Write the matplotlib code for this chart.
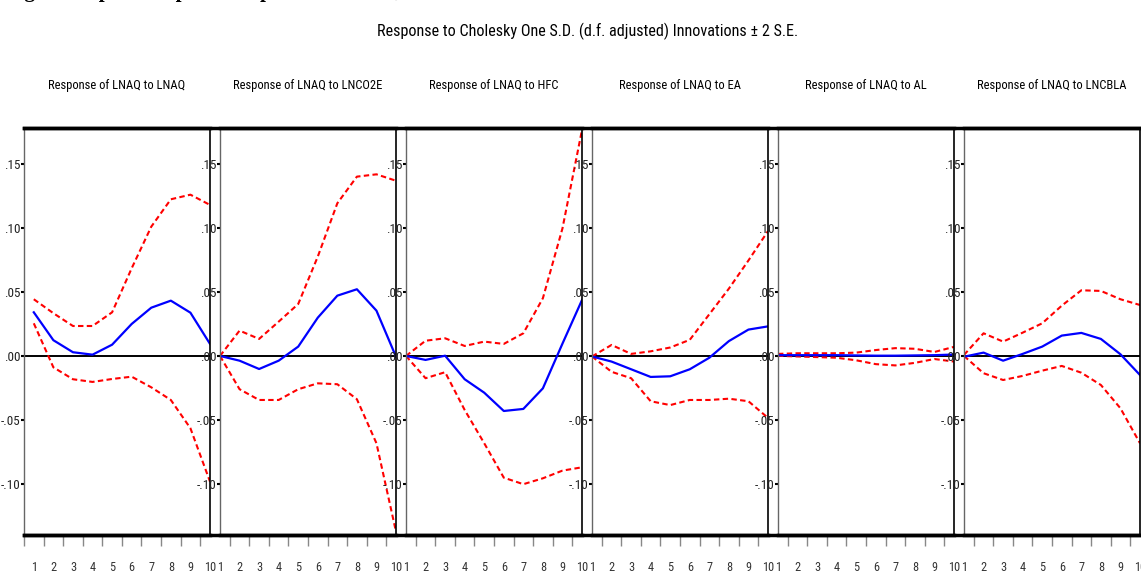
import matplotlib
matplotlib.use("Agg")
import matplotlib.pyplot as plt
from matplotlib import font_manager
from matplotlib.font_manager import FontProperties
from matplotlib.lines import Line2D


def narrow_font():
    # look for a condensed / narrow sans face, EViews graphs use a squeezed Arial
    prefs = ["liberationsansnarrow-regular", "robotocondensed-regular", "dejavusanscondensed.",
             "opensans_condensed-regular", "notosans-condensed.", "notosanscondensed-regular"]
    files = [f.fname for f in font_manager.fontManager.ttflist]
    for p in prefs:
        for fn in files:
            if p in fn.lower().replace(" ", ""):
                return FontProperties(fname=fn)
    for f in font_manager.fontManager.ttflist:
        low = f.fname.lower()
        if ("condensed" in low or "narrow" in low) and "bold" not in low and "oblique" not in low \
                and "italic" not in low and "mono" not in low and "serif" not in low.replace("sans", ""):
            return FontProperties(fname=f.fname)
    return FontProperties(family="DejaVu Sans")


FP = narrow_font()

periods = list(range(1, 11))
shocks = ["LNAQ", "LNCO2E", "HFC", "EA", "AL", "LNCBLA"]

# response of LNAQ to each shock, with +/- 2 S.E. bands
irf_lnaq = [0.0345, 0.0127, 0.0033, 0.0014, 0.0092, 0.0254, 0.0381, 0.0436, 0.0342, 0.0098]
up_lnaq = [0.0447, 0.0338, 0.0238, 0.0238, 0.0345, 0.0689, 0.1014, 0.1228, 0.1264, 0.1184]
lo_lnaq = [0.0259, -0.0085, -0.0178, -0.0199, -0.0176, -0.0158, -0.0241, -0.0340, -0.0561, -0.0978]

irf_lnco2e = [0.0004, -0.0033, -0.0098, -0.0033, 0.0077, 0.0303, 0.0475, 0.0525, 0.0358, -0.0002]
up_lnco2e = [0.0004, 0.0202, 0.0137, 0.0272, 0.0410, 0.0780, 0.1197, 0.1405, 0.1423, 0.1373]
lo_lnco2e = [0.0004, -0.0256, -0.0340, -0.0340, -0.0256, -0.0210, -0.0217, -0.0334, -0.0678, -0.1369]

irf_hfc = [0.0004, -0.0027, 0.0006, -0.0178, -0.0283, -0.0426, -0.0410, -0.0249, 0.0100, 0.0441]
up_hfc = [0.0004, 0.0123, 0.0142, 0.0082, 0.0116, 0.0098, 0.0181, 0.0455, 0.1000, 0.1770]
lo_hfc = [0.0004, -0.0170, -0.0123, -0.0418, -0.0678, -0.0947, -0.0998, -0.0952, -0.0892, -0.0866]

irf_ea = [0.0000, -0.0040, -0.0100, -0.0160, -0.0155, -0.0100, -0.0010, 0.0120, 0.0210, 0.0235]
up_ea = [0.0000, 0.0090, 0.0020, 0.0040, 0.0070, 0.0130, 0.0330, 0.0530, 0.0750, 0.0980]
lo_ea = [0.0000, -0.0120, -0.0170, -0.0350, -0.0380, -0.0340, -0.0340, -0.0330, -0.0350, -0.0480]

irf_al = [0.0010, 0.0010, 0.0010, 0.0010, 0.0008, 0.0006, 0.0006, 0.0008, 0.0010, 0.0015]
up_al = [0.0020, 0.0025, 0.0025, 0.0025, 0.0030, 0.0050, 0.0065, 0.0060, 0.0035, 0.0075]
lo_al = [0.0005, 0.0000, -0.0005, -0.0010, -0.0030, -0.0060, -0.0070, -0.0050, -0.0020, -0.0040]

irf_lncbla = [-0.0002, 0.0030, -0.0033, 0.0020, 0.0077, 0.0163, 0.0184, 0.0137, 0.0017, -0.0145]
up_lncbla = [0.0012, 0.0181, 0.0116, 0.0186, 0.0259, 0.0397, 0.0517, 0.0512, 0.0447, 0.0402]
lo_lncbla = [0.0004, -0.0131, -0.0184, -0.0152, -0.0111, -0.0074, -0.0127, -0.0223, -0.0405, -0.0678]

irfs = [irf_lnaq, irf_lnco2e, irf_hfc, irf_ea, irf_al, irf_lncbla]
uppers = [up_lnaq, up_lnco2e, up_hfc, up_ea, up_al, up_lncbla]
lowers = [lo_lnaq, lo_lnco2e, lo_hfc, lo_ea, lo_al, lo_lncbla]

yticks = [-0.10, -0.05, 0.0, 0.05, 0.10, 0.15]
ytick_labels = ["-.10", "-.05", ".00", ".05", ".10", ".15"]

W, H = 1141, 573
fig = plt.figure(figsize=(W / 100, H / 100), dpi=100)
fig.patch.set_facecolor("white")
renderer = fig.canvas.get_renderer()


def fit_size(s, target_px):
    # font size that makes string s about target_px wide
    t = fig.text(0, 0, s, fontproperties=FP, fontsize=10)
    w = t.get_window_extent(renderer).width
    t.remove()
    return 10 * target_px / w


def fp(size):
    p = FP.copy()
    p.set_size(size)
    return p


title_size = fit_size("Response to Cholesky One S.D. (d.f. adjusted) Innovations \u00b1 2 S.E.", 420)
panel_size = fit_size("Response of LNAQ to LNAQ", 136)
ytick_size = fit_size(".15", 16.5)
xtick_size = fit_size("10", 12)

top_px, bot_px = 128, 535
lefts = [24, 220, 406, 592, 778, 964]
rights = [210, 396, 582, 768, 954, 1140]

# heading of the page, cut off at the top edge like in the screenshot
fig.text(6 / W, 1 + 3 / H, "Fig 4: Graph of Impulse Response of LNAQ to the Shocks",
         family="Liberation Serif", fontweight="bold", fontsize=15,
         ha="left", va="baseline", color="black")

fig.text(588 / W, 1 - 31 / H,
         "Response to Cholesky One S.D. (d.f. adjusted) Innovations \u00b1 2 S.E.",
         fontproperties=fp(title_size), ha="center", va="center")

for i, shock in enumerate(shocks):
    l, r = lefts[i], rights[i]
    ax = fig.add_axes([l / W, 1 - bot_px / H, (r - l) / W, (bot_px - top_px) / H])
    x0 = 0.5 if i == 0 else 1
    ax.plot(periods, uppers[i], color="#ff0000", lw=1.5, dashes=(2.6, 1.6))
    ax.plot(periods, lowers[i], color="#ff0000", lw=1.5, dashes=(2.6, 1.6))
    ax.plot(periods, irfs[i], color="#0000ff", lw=1.6)
    ax.axhline(0, color="black", lw=1.4, zorder=1)
    ax.set_xlim(x0, 10)
    ax.set_ylim(-0.1395, 0.1785)

    ax.set_yticks(yticks)
    ax.set_yticklabels(ytick_labels, fontproperties=fp(ytick_size), color="#222222")
    ax.tick_params(axis="y", length=2.2, width=1.5, pad=0.5, color="black")

    ax.set_xticks(periods)
    ax.set_xticklabels([str(p) for p in periods], fontproperties=fp(xtick_size), color="#333333")
    ax.tick_params(axis="x", which="major", length=0, pad=19)
    minor = [x0] + [p + 0.5 for p in periods[:-1]] + [10]
    ax.set_xticks(minor, minor=True)
    ax.tick_params(axis="x", which="minor", length=8, width=1, color="#888888")

    ax.spines["left"].set_color("#666666")
    ax.spines["left"].set_linewidth(1.0)
    ax.spines["right"].set_color("black")
    ax.spines["right"].set_linewidth(1.2)
    ax.spines["top"].set_linewidth(2.5)
    ax.spines["bottom"].set_linewidth(2.5)

    fig.text((l + r) / 2 / W, 1 - 85 / H, "Response of LNAQ to " + shock,
             fontproperties=fp(panel_size), ha="center", va="center")

# thick frame lines run through the gaps between the panels
for ypx in (top_px, bot_px):
    fig.add_artist(Line2D([24 / W, 1], [1 - ypx / H] * 2, color="black", lw=2.5))

fig.savefig("out.png", dpi=100)
